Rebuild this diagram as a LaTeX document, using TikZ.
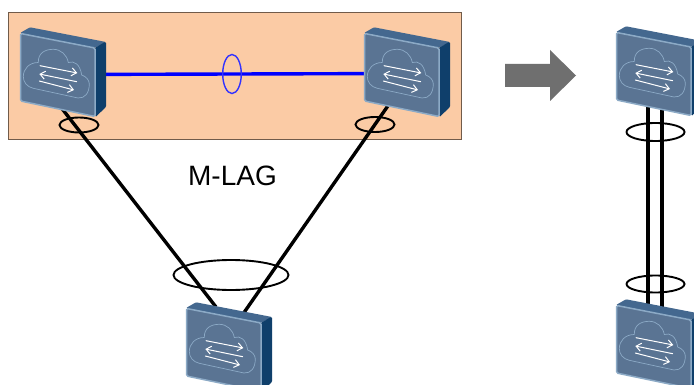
\documentclass[tikz,border=0pt]{standalone}
\usepackage{fontspec}
\setmainfont{Liberation Sans}
\usetikzlibrary{arrows.meta}
\definecolor{panelfill}{HTML}{FBCBA5}
\definecolor{faceblue}{HTML}{5A7493}
\definecolor{faceedge}{HTML}{8CAAC6}
\definecolor{topblue}{HTML}{44688F}
\definecolor{sideblue}{HTML}{0F3F6B}
\definecolor{arrowgrey}{HTML}{6F6F6F}
\tikzset{
  wire/.style={line width=3.4pt,black},
  bundle/.style={line width=1.9pt,black},
  peerlink/.style={line width=3.4pt,blue!100},
  peerbundle/.style={line width=1.4pt,color={rgb,255:red,50;green,50;blue,255}},
  anchorbox/.style={inner sep=0pt,minimum width=86pt,minimum height=80pt},
  netswitch/.pic={
    \fill[topblue,rounded corners=1pt] (0,0) -- (10,-5.7) -- (86,9) -- (75,15) -- cycle;
    \fill[sideblue] (75,15) -- (84,9.5) [rounded corners=1pt] -- (86,9) -- (86,74) -- (75.5,84) -- cycle;
    \draw[faceedge,fill=faceblue,line width=1.5pt,rounded corners=1.5pt] (0.5,0.5) -- (75,15) -- (75,83.5) -- (0.5,68) -- cycle;
    \draw[faceedge,line width=0.7pt,line cap=round,line join=round]
      (13.3,55.3) .. controls (7,54) and (3.3,49) .. (3.3,43.7)
      .. controls (3.3,36) and (9,29.5) .. (18.3,29.5)
      .. controls (18,20) and (25,16.3) .. (33.3,16.3)
      .. controls (41,16.3) and (47,22) .. (48.3,29.5)
      .. controls (54,27.5) and (60,31) .. (61.7,42)
      .. controls (66,43.5) and (69.3,47) .. (69.3,51)
      .. controls (69.3,60) and (65,65.5) .. (58,65)
      -- cycle;
    \begin{scope}[white,line width=1pt,line cap=round]
      \draw[-{Straight Barb[length=5pt,width=8pt,line width=1pt]}] (20,32.7) -- (57.3,40);
      \draw[-{Straight Barb[length=5pt,width=8pt,line width=1pt]}] (56.7,48.7) -- (19.3,41);
      \draw[-{Straight Barb[length=5pt,width=8pt,line width=1pt]}] (19.3,48) -- (54,57);
    \end{scope}
  }
}
\begin{document}
\begin{tikzpicture}[x=1pt,y=-1pt]
\useasboundingbox (0,0) rectangle (694,385);
\clip (0,0) rectangle (694,385);
\fill[white] (0,0) rectangle (694,385);
\draw[panelfill!45!black,fill=panelfill,line width=1pt] (8.5,12.5) rectangle (461,140);
% hidden switch positions
\node[anchorbox] (s1) at (63,75) {};
\node[anchorbox] (s2) at (407,75) {};
\node[anchorbox] (s3) at (229,349) {};
\node[anchorbox] (s4) at (659,74) {};
\node[anchorbox] (s5) at (659,347) {};
\coordinate (p1) at (60,106);
\coordinate (q1) at (216,307);
\coordinate (p2) at (392,100);
\coordinate (q2) at (243,314);
\coordinate (p3) at (648,100);
\coordinate (q3) at (648,310);
\coordinate (p4) at (662,100);
\coordinate (q4) at (662,310);
\draw[peerlink] (s1.center |- 0,74.5) -- (s2.center |- 0,73.5);
\draw[peerbundle] (232,74) ellipse [x radius=9.3,y radius=19.5];
\draw[wire] (p1) -- (q1);
\draw[wire] (p2) -- (q2);
\draw[wire] (p3) -- (q3);
\draw[wire] (p4) -- (q4);
\draw[bundle] (79,125) ellipse [x radius=19.5,y radius=7.5];
\draw[bundle] (375,124.5) ellipse [x radius=19.5,y radius=7.5];
\draw[bundle] (231,275) ellipse [x radius=57.5,y radius=15];
\draw[bundle] (655.5,132) ellipse [x radius=29,y radius=9];
\draw[bundle] (655.5,284) ellipse [x radius=29,y radius=8.5];
\pic at (20,33) {netswitch};
\pic at (364,33) {netswitch};
\pic at (186,308) {netswitch};
\pic at (616,32) {netswitch};
\pic at (616,305) {netswitch};
\node[font=\fontsize{28}{30}\selectfont,inner sep=0pt] (mlag) at (232.5,175.5) {M-LAG};
\fill[arrowgrey] (505,64) -- (550,64) -- (550,50) -- (576,75.5) -- (550,101) -- (550,87) -- (505,87) -- cycle;
\end{tikzpicture}
\end{document}
